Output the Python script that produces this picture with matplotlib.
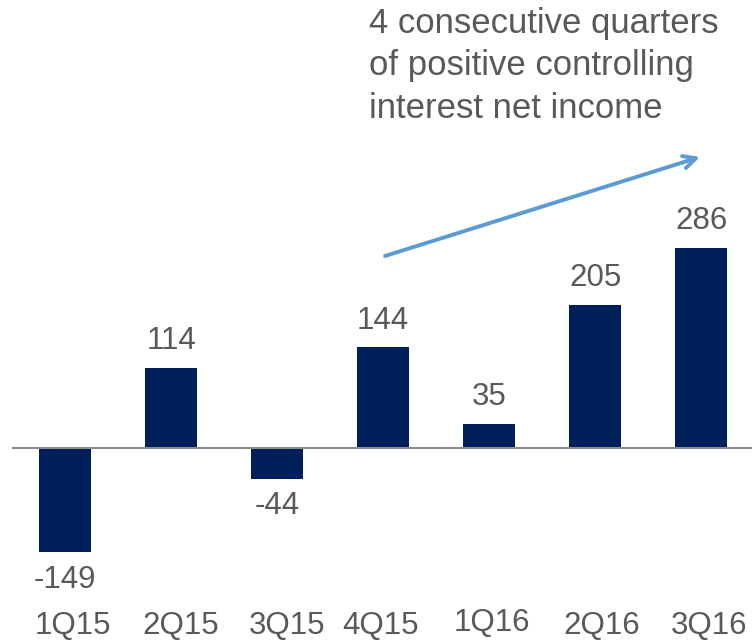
import matplotlib
matplotlib.use("Agg")
import matplotlib.pyplot as plt

quarters = ["1Q15", "2Q15", "3Q15", "4Q15", "1Q16", "2Q16", "3Q16"]
values = [-149, 114, -44, 144, 35, 205, 286]
note_lines = ["4 consecutive quarters", "of positive controlling", "interest net income"]

plt.rcParams['font.family'] = ['Liberation Sans', 'DejaVu Sans']
W, H = 752, 641
fig = plt.figure(figsize=(W / 100, H / 100), dpi=100)
ax = fig.add_axes([0, 0, 1, 1])
ax.set_xlim(-0.613, 6.48)
ax.set_ylim(-276, 641)
ax.axis('off')

navy = "#001f5b"
gray = "#595959"
x = list(range(len(quarters)))
ax.bar(x, values, width=0.49, color=navy, zorder=2)
ax.hlines(0, -0.5, 6.48, color="#8c8c8c", lw=1.5, zorder=3)

for xi, v in zip(x, values):
    if v >= 0:
        ax.text(xi, v + 17, str(v), ha='center', va='bottom', fontsize=22.5, color=gray)
    else:
        ax.text(xi, v - 18, str(v), ha='center', va='top', fontsize=22.5, color=gray)

offs = [0.07, 0.09, 0.09, -0.02, 0.03, 0.06, 0.07]
ys = [-255, -255, -255, -255, -250, -255, -255]
for xi, q, o, yy in zip(x, quarters, offs, ys):
    ax.text(xi + o, yy, q, ha='center', va='center', fontsize=22.5, color=gray)

def px2data(px, py):
    return ax.transData.inverted().transform(ax.transAxes.transform((px / W, 1 - py / H)))

for i, line in enumerate(note_lines):
    tx, ty = px2data(369, 24 + i * 42)
    ax.text(tx, ty, line, ha='left', va='center', fontsize=25, color=gray)

x0, y0 = px2data(385, 256)
x1, y1 = px2data(700, 157)
ax.annotate("", xy=(x1, y1), xytext=(x0, y0),
            arrowprops=dict(arrowstyle="->,head_length=0.9,head_width=0.45",
                            color="#5b9bd5", lw=2.8, shrinkA=0, shrinkB=0))

fig.savefig("out.png", dpi=100)
